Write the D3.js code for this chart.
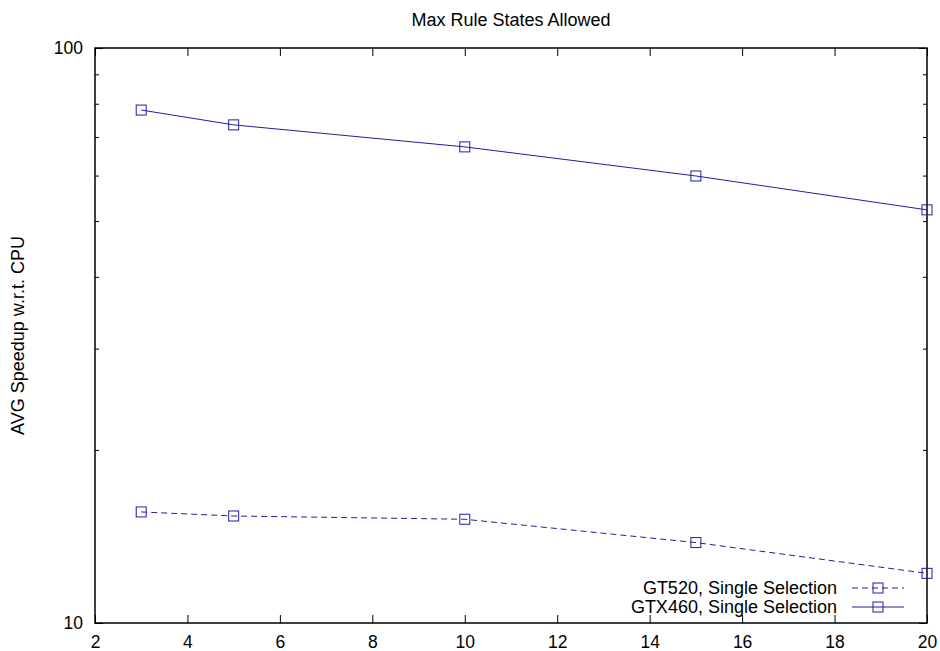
<!DOCTYPE html>
<html>
<head>
<meta charset="utf-8">
<script src="https://cdn.jsdelivr.net/npm/d3@7"></script>
<style>
  body { margin: 0; background: #fff; }
  svg text { font-family: "Liberation Sans", Arial, Helvetica, sans-serif; fill: #000; }
</style>
</head>
<body>
<div id="chart"></div>
<script>
var xValues = [3, 5, 10, 15, 20];
var gt520 = [15.6, 15.35, 15.15, 13.8, 12.2];
var gtx460 = [78.0, 73.5, 67.3, 59.9, 52.3];
var xTicks = [2, 4, 6, 8, 10, 12, 14, 16, 18, 20];
var yMajor = [10, 100];
var yMinor = [20, 30, 40, 50, 60, 70, 80, 90];
var seriesNames = ["GT520, Single Selection", "GTX460, Single Selection"];
var color = "#1f1f9e";

var W = 940, H = 651;
var margin = {top: 48, right: 13, bottom: 28, left: 95};
var width = W - margin.left - margin.right,
  height = H - margin.top - margin.bottom;

var svg = d3.select("#chart").append("svg")
  .attr("width", W).attr("height", H);
var g = svg.append("g")
  .attr("transform", "translate(" + margin.left + "," + margin.top + ")");

var x = d3.scaleLinear().domain([2, 20]).range([0, width]);
var y = d3.scaleLog().domain([10, 100]).range([height, 0]);

/* axes, gnuplot style: ticks pointing inside, mirrored */
g.append("g").attr("class", "axis")
  .attr("transform", "translate(0," + height + ")")
  .call(d3.axisBottom(x).tickValues(xTicks).tickSize(-8).tickPadding(13).tickFormat(d3.format("d")));
g.append("g").attr("class", "axis")
  .call(d3.axisTop(x).tickValues(xTicks).tickSize(-8).tickFormat(""));
g.append("g").attr("class", "axis")
  .call(d3.axisLeft(y).tickValues(yMajor).tickSize(-8).tickPadding(12).tickFormat(d3.format("d")));
g.append("g").attr("class", "axis")
  .call(d3.axisLeft(y).tickValues(yMinor).tickSize(-4).tickFormat(""));
g.append("g").attr("class", "axis")
  .attr("transform", "translate(" + width + ",0)")
  .call(d3.axisRight(y).tickValues(yMajor).tickSize(-8).tickFormat(""));
g.append("g").attr("class", "axis")
  .attr("transform", "translate(" + width + ",0)")
  .call(d3.axisRight(y).tickValues(yMinor).tickSize(-4).tickFormat(""));
g.selectAll(".axis .domain").remove();
g.selectAll(".axis line").attr("stroke", "#000").attr("stroke-width", 1);
g.selectAll(".axis text").style("font-size", "17.5px").attr("fill", "#000");

g.append("rect")
  .attr("x", 0).attr("y", 0).attr("width", width).attr("height", height)
  .attr("fill", "none").attr("stroke", "#000").attr("stroke-width", 1.5);

/* series */
var line = d3.line()
  .x(function(d) { return x(d[0]); })
  .y(function(d) { return y(d[1]); });

var series = [
  {name: seriesNames[0], vals: gt520, dash: "6,4"},
  {name: seriesNames[1], vals: gtx460, dash: null}
];

series.forEach(function(s) {
  var pts = xValues.map(function(v, i) { return [v, s.vals[i]]; });
  g.append("path")
    .datum(pts)
    .attr("fill", "none")
    .attr("stroke", color)
    .attr("stroke-width", 1)
    .attr("stroke-dasharray", s.dash)
    .attr("d", line);
  g.selectAll(null)
    .data(pts)
    .enter().append("rect")
    .attr("x", function(d) { return x(d[0]) - 5; })
    .attr("y", function(d) { return y(d[1]) - 5; })
    .attr("width", 10).attr("height", 10)
    .attr("fill", "none")
    .attr("stroke", color)
    .attr("stroke-width", 1);
});

/* legend */
var legend = g.append("g")
  .attr("transform", "translate(" + (width - 90) + "," + (height - 35) + ")");
series.forEach(function(s, i) {
  var row = legend.append("g").attr("transform", "translate(0," + (i * 19) + ")");
  row.append("text")
    .attr("x", 0).attr("y", 0).attr("dy", "0.35em")
    .attr("text-anchor", "end")
    .style("font-size", "18px")
    .text(s.name);
  row.append("line")
    .attr("x1", 15).attr("x2", 67).attr("y1", 0).attr("y2", 0)
    .attr("stroke", color).attr("stroke-width", 1)
    .attr("stroke-dasharray", s.dash);
  row.append("rect")
    .attr("x", 36).attr("y", -5).attr("width", 10).attr("height", 10)
    .attr("fill", "none").attr("stroke", color);
});

/* titles */
svg.append("text")
  .attr("x", margin.left + width / 2).attr("y", 26)
  .attr("text-anchor", "middle")
  .style("font-size", "18px")
  .text("Max Rule States Allowed");
svg.append("text")
  .attr("transform", "translate(24," + (margin.top + height / 2) + ") rotate(-90)")
  .attr("text-anchor", "middle")
  .style("font-size", "18px")
  .text("AVG Speedup w.r.t. CPU");
</script>
</body>
</html>
